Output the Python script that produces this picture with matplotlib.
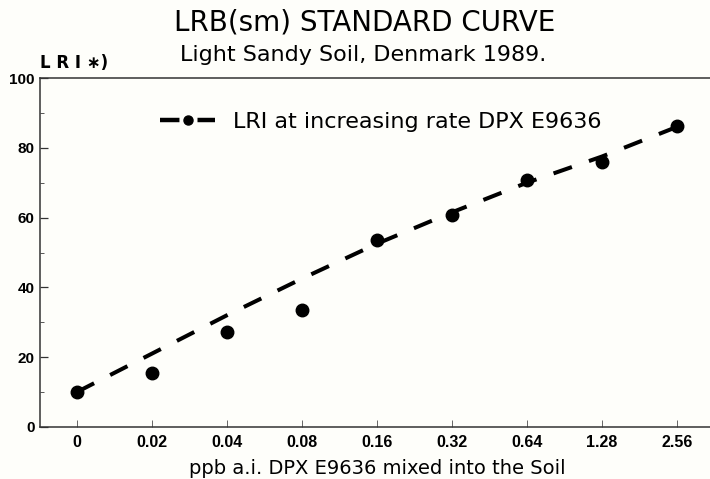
import matplotlib
matplotlib.use("Agg")
import matplotlib.pyplot as plt
from matplotlib.lines import Line2D
from matplotlib.ticker import MultipleLocator

plt.rcParams["font.family"] = ["Liberation Sans", "DejaVu Sans"]
plt.rcParams["lines.scale_dashes"] = False

# doses (ppb a.i.), equally spaced on the chart
doses = ["0", "0.02", "0.04", "0.08", "0.16", "0.32", "0.64", "1.28", "2.56"]
lri_measured = [10, 15.5, 27.3, 33.5, 53.6, 60.8, 70.8, 76.0, 86.2]
lri_fit = [10, 21, 32, 42.5, 52.5, 61.5, 70, 77.5, 86]

positions = list(range(len(doses)))
WIDE = "DejaVu Sans"

fig = plt.figure(figsize=(7.1, 4.79), dpi=100, facecolor="#fefefa")
ax = fig.add_axes([40 / 710, 1 - 427 / 479, 1 - 40 / 710, 349 / 479])
ax.set_facecolor("#fefefa")

ax.plot(positions, lri_fit, color="black", lw=2.9, dashes=(14, 13),
        dash_capstyle="butt")
ax.plot(positions, lri_measured, "o", color="black", ms=9)

ax.set_xlim(-0.49, 8.44)
ax.set_ylim(0, 100)
ax.set_xticks(positions)
ax.set_xticklabels(doses)
ax.yaxis.set_major_locator(MultipleLocator(20))
ax.yaxis.set_minor_locator(MultipleLocator(10))

ax.tick_params(axis="y", which="major", direction="in", length=6, width=0.9,
               pad=4, labelsize=11, color="#333333")
ax.tick_params(axis="y", which="minor", direction="in", length=3, width=0.7,
               color="#555555")
ax.tick_params(axis="x", direction="in", length=5, width=0.7, pad=6,
               labelsize=11.5, color="#666666")
for lab in ax.get_xticklabels() + ax.get_yticklabels():
    lab.set_fontweight("bold")

ax.spines["right"].set_visible(False)
for side in ("left", "top", "bottom"):
    ax.spines[side].set_linewidth(1.1)
    ax.spines[side].set_color("#333333")

handle = Line2D([], [], color="black", lw=3.2, dashes=(14, 13), marker="o",
                ms=6.5, dash_capstyle="butt")
ax.legend([handle], ["LRI at increasing rate DPX E9636"], loc="center left",
          bbox_to_anchor=(0.179, 0.874), frameon=False,
          prop={"family": WIDE, "size": 16},
          handlelength=2.5, handletextpad=0.8, borderpad=0,
          borderaxespad=0, numpoints=1)

fig.text(365 / 710, 1 - 23 / 479, "LRB(sm) STANDARD CURVE", ha="center",
         va="center", fontsize=20, family=WIDE)
fig.text(363 / 710, 1 - 55 / 479, "Light Sandy Soil, Denmark 1989.",
         ha="center", va="center", fontsize=16, family=WIDE)
fig.text(40 / 710, 1 - 63 / 479, "L R I \u2217)", ha="left", va="center",
         fontsize=12, fontweight="bold", family=WIDE)
fig.text(377 / 710, 1 - 468 / 479, "ppb a.i. DPX E9636 mixed into the Soil",
         ha="center", va="center", fontsize=14, family=WIDE)

fig.savefig("out.png", dpi=100, facecolor=fig.get_facecolor())
